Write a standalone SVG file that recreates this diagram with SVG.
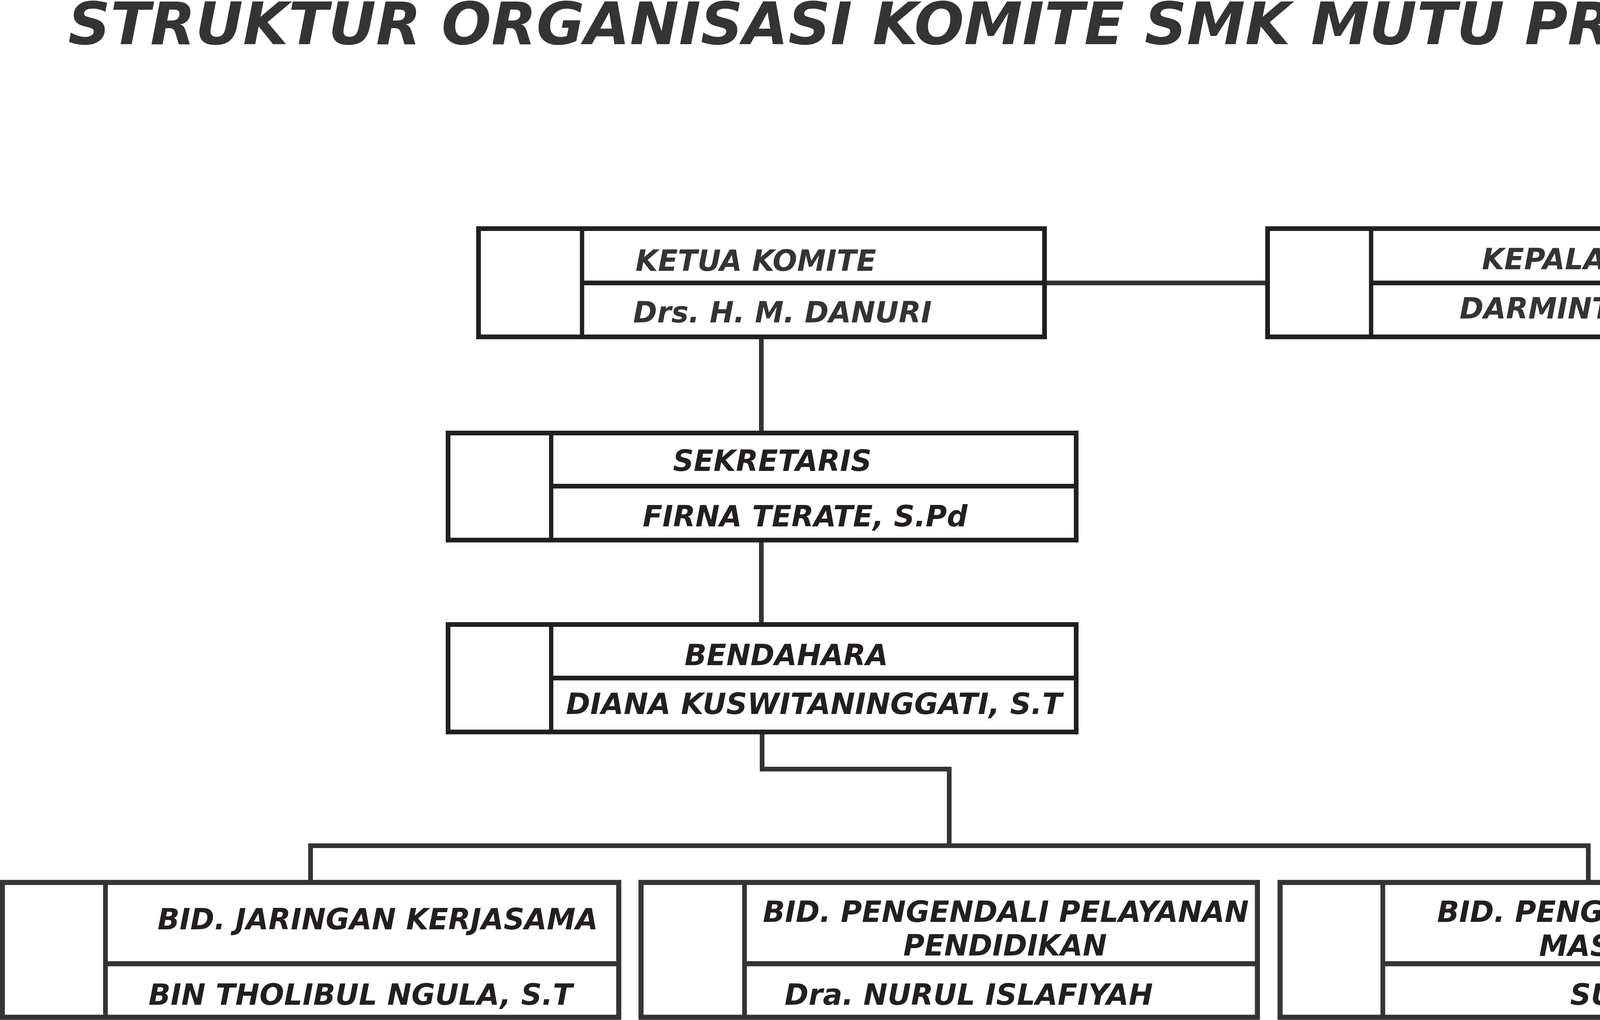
<svg xmlns="http://www.w3.org/2000/svg" width="4861" height="2610" viewBox="0 0 4861 2610">
<style>
.bx{fill:#ffffff;stroke:#231f20;stroke-width:12}
.bx2{fill:none;stroke:#353334;stroke-width:13}
.dv{fill:none;stroke:#231f20;stroke-width:11}
.dv2{fill:none;stroke:#353334;stroke-width:12}
.cn{fill:none;stroke:#353334;stroke-width:12}
.t{font-family:"DejaVu Sans",Verdana,sans-serif;font-weight:bold;font-style:italic;font-size:74px;text-anchor:middle;fill:#353334}
.t2{font-family:"DejaVu Sans",Verdana,sans-serif;font-weight:bold;font-style:italic;font-size:74px;text-anchor:middle;fill:#231f20}
.title{font-family:"DejaVu Sans",Verdana,sans-serif;font-weight:bold;font-style:italic;font-size:150px;text-anchor:middle;fill:#353334}
</style>
<rect width="4861" height="2610" fill="#ffffff"/>
<text class="title" x="2468" y="113">STRUKTUR ORGANISASI KOMITE SMK MUTU PRAMBON</text>
<g id="connectors">
<line class="cn" x1="2674" y1="724" x2="3245" y2="724"/>
<line class="cn" x1="1949" y1="862" x2="1949" y2="1108" stroke-width="11"/>
<line class="cn" x1="1949" y1="1382" x2="1949" y2="1598" stroke-width="11"/>
<path class="cn" d="M1951 1873 V1968 H2430 V2164"/>
<path class="cn" d="M795 2258 V2164 H4066 V2258"/>
</g>
<g id="ketua">
<rect class="bx" x="1225" y="585" width="1449" height="277"/>
<line class="dv" x1="1490" y1="585" x2="1490" y2="862"/>
<line class="bx" x1="1490" y1="724" x2="2674" y2="724"/>
<text class="t" x="1935" y="693">KETUA KOMITE</text>
<text class="t" x="2003" y="825">Drs. H. M. DANURI</text>
</g>
<g id="kepala">
<rect class="bx" x="3245" y="585" width="1450" height="277"/>
<line class="dv" x1="3510" y1="585" x2="3510" y2="862"/>
<line class="bx" x1="3510" y1="724" x2="4695" y2="724"/>
<text class="t" x="4158" y="689">KEPALA SEKOLAH</text>
<text class="t" x="4120" y="815">DARMINTO, S.Kom</text>
</g>
<g id="sekretaris">
<rect class="bx" x="1147" y="1108" width="1608" height="274"/>
<line class="dv" x1="1411" y1="1108" x2="1411" y2="1382"/>
<line class="bx" x1="1411" y1="1244" x2="2755" y2="1244"/>
<text class="t2" x="1977" y="1205">SEKRETARIS</text>
<text class="t2" x="2061" y="1347">FIRNA TERATE, S.Pd</text>
</g>
<g id="bendahara">
<rect class="bx" x="1147" y="1598" width="1608" height="275"/>
<line class="dv" x1="1411" y1="1598" x2="1411" y2="1873"/>
<line class="bx" x1="1411" y1="1735" x2="2755" y2="1735"/>
<text class="t2" x="2013" y="1702">BENDAHARA</text>
<text class="t2" x="2084" y="1827" textLength="1270" lengthAdjust="spacingAndGlyphs">DIANA KUSWITANINGGATI, S.T</text>
</g>
<g id="bid-jaringan">
<rect class="bx2" x="6" y="2258" width="1578" height="345" fill="#ffffff"/>
<line class="dv2" x1="270" y1="2258" x2="270" y2="2603"/>
<line class="bx2" x1="270" y1="2466" x2="1584" y2="2466"/>
<text class="t2" x="967" y="2378">BID. JARINGAN KERJASAMA</text>
<text class="t2" x="923" y="2571">BIN THOLIBUL NGULA, S.T</text>
</g>
<g id="bid-pengendali">
<rect class="bx2" x="1641" y="2258" width="1578" height="345" fill="#ffffff"/>
<line class="dv2" x1="1906" y1="2258" x2="1906" y2="2603"/>
<line class="bx2" x1="1906" y1="2466" x2="3219" y2="2466"/>
<text class="t2" x="2575" y="2359">BID. PENGENDALI PELAYANAN</text>
<text class="t2" x="2573" y="2445">PENDIDIKAN</text>
<text class="t2" x="2480" y="2571">Dra. NURUL ISLAFIYAH</text>
</g>
<g id="bid-pengelolaan">
<rect class="bx2" x="3277" y="2258" width="1578" height="345" fill="#ffffff"/>
<line class="dv2" x1="3540" y1="2258" x2="3540" y2="2603"/>
<line class="bx2" x1="3540" y1="2466" x2="4855" y2="2466"/>
<text class="t2" x="4215" y="2359">BID. PENGELOLAAN DANA</text>
<text class="t2" x="4220" y="2446">MASYARAKAT</text>
<text class="t2" x="4227" y="2571">SUTARSIH</text>
</g>
</svg>
